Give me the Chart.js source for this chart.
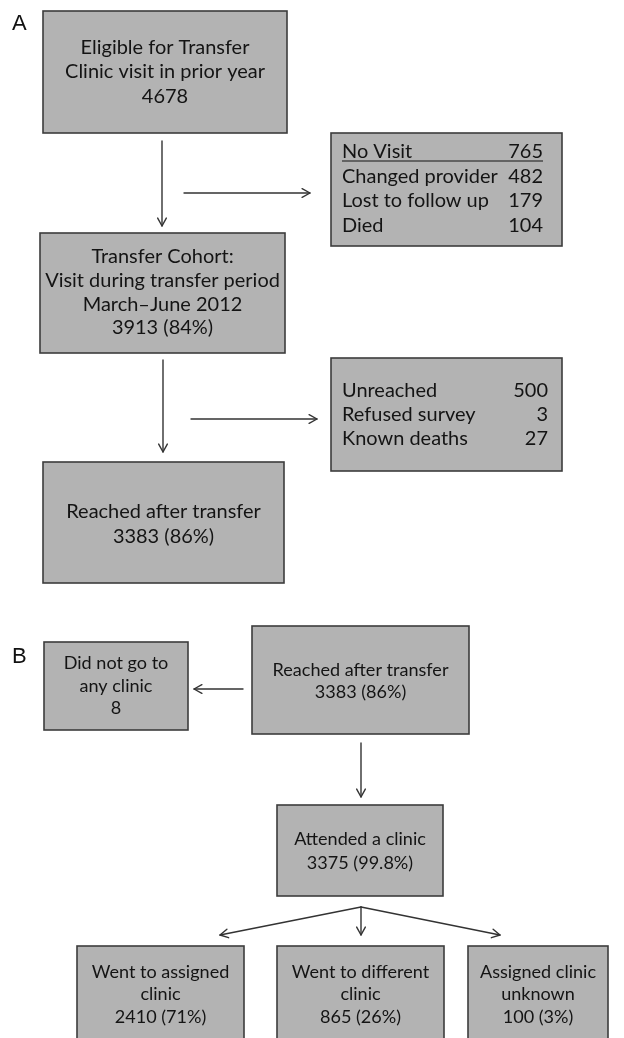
<!DOCTYPE html>
<html>
<head>
<meta charset="utf-8">
<script src="https://cdn.jsdelivr.net/npm/chart.js@4/dist/chart.umd.min.js"></script>
<style>
html,body{margin:0;padding:0;background:#fff;}
#wrap{width:624px;height:1038px;}
</style>
</head>
<body>
<div id="wrap"><canvas id="c" width="624" height="1038"></canvas></div>
<script>
// ---- data (text and counts) ----
const panelLabels = ['A', 'B'];
const eligibleCount = 4678;
const noVisitItems = ['No Visit', 'Changed provider', 'Lost to follow up', 'Died'];
const noVisitValues = [765, 482, 179, 104];
const cohortCount = 3913, cohortPct = '84%';
const lossItems = ['Unreached', 'Refused survey', 'Known deaths'];
const lossValues = [500, 3, 27];
const reachedCount = 3383, reachedPct = '86%';
const noClinicCount = 8;
const attendedCount = 3375, attendedPct = '99.8%';
const outcomeNames = [['Went to assigned', 'clinic'], ['Went to different', 'clinic'], ['Assigned clinic', 'unknown']];
const outcomeCounts = [2410, 865, 100];
const outcomePcts = ['71%', '26%', '3%'];

// ---- layout (data units of the chart's own linear scales) ----
const boxes = [
  {x0:43, y0:11, x1:287, y1:133, cy:72, lh:24.5, sec:'A', lines:['Eligible for Transfer','Clinic visit in prior year', String(eligibleCount)]},
  {x0:40, y0:233, x1:285, y1:353, cy:292.5, lh:23.7, sec:'A', lines:['Transfer Cohort:','Visit during transfer period','March\u2013June 2012', cohortCount+' ('+cohortPct+')']},
  {x0:43, y0:462, x1:284, y1:583, cy:524.5, lh:25, sec:'A', lines:['Reached after transfer', reachedCount+' ('+reachedPct+')']},
  {x0:331, y0:133, x1:562, y1:246, sec:'A', list:{items:noVisitItems, vals:noVisitValues, lx:342, rx:543, ys:[152,177,201,226], underline:161}},
  {x0:331, y0:358, x1:562, y1:471, sec:'A', list:{items:lossItems, vals:lossValues, lx:342, rx:548, ys:[391,415,439]}},
  {x0:44, y0:642, x1:188, y1:730, cy:686, lh:22.5, sec:'B', lines:['Did not go to','any clinic', String(noClinicCount)]},
  {x0:252, y0:626, x1:469, y1:734, cy:681, lh:22.5, sec:'B', lines:['Reached after transfer', reachedCount+' ('+reachedPct+')']},
  {x0:277, y0:805, x1:443, y1:896, cy:851, lh:24, sec:'B', lines:['Attended a clinic', attendedCount+' ('+attendedPct+')']},
  {x0:77, y0:946, x1:244, y1:1045, cy:994.5, lh:22.5, sec:'B', lines:[outcomeNames[0][0], outcomeNames[0][1], outcomeCounts[0]+' ('+outcomePcts[0]+')']},
  {x0:277, y0:946, x1:444, y1:1045, cy:994.5, lh:22.5, sec:'B', lines:[outcomeNames[1][0], outcomeNames[1][1], outcomeCounts[1]+' ('+outcomePcts[1]+')']},
  {x0:468, y0:946, x1:608, y1:1045, cy:994.5, lh:22.5, sec:'B', lines:[outcomeNames[2][0], outcomeNames[2][1], outcomeCounts[2]+' ('+outcomePcts[2]+')']}
];
const arrows = [
  [162,141,162,226],[184,193,310,193],
  [163,360,163,452],[191,419,317,419],
  [243,689,194,689],[361,743,361,797]
];
const branchApex = [361,907];
const branchEnds = [[220,935],[361,935],[500,935]];
const labelPos = [[12,30,22],[12,663,22]];

const FONT = 'Lato, "Open Sans", sans-serif';
const BOX_FILL = '#b3b3b3', BOX_EDGE = '#3c3c3c', TEXT = '#141414', LINE = '#333';

function fitSize(ctx, str, target){
  ctx.font = '20px ' + FONT;
  return 20 * target / ctx.measureText(str).width;
}

const flowPlugin = {
  id: 'flow',
  afterDraw(chart){
    const ctx = chart.ctx, sx = chart.scales.x, sy = chart.scales.y;
    const X = v => sx.getPixelForValue(v), Y = v => sy.getPixelForValue(v);
    const sizes = {A: fitSize(ctx, 'Clinic visit in prior year', 200), B: fitSize(ctx, 'Reached after transfer', 176)};
    ctx.save();
    // boxes
    boxes.forEach(b => {
      const x = X(b.x0), y = Y(b.y0), w = X(b.x1) - x, h = Y(b.y1) - y;
      ctx.fillStyle = BOX_FILL; ctx.fillRect(x, y, w, h);
      ctx.strokeStyle = BOX_EDGE; ctx.lineWidth = 1.6; ctx.strokeRect(x, y, w, h);
      ctx.fillStyle = TEXT; ctx.textBaseline = 'middle';
      ctx.font = sizes[b.sec].toFixed(2) + 'px ' + FONT;
      if (b.lines){
        ctx.textAlign = 'center';
        const cx = (X(b.x0) + X(b.x1)) / 2;
        const n = b.lines.length;
        b.lines.forEach((t, i) => ctx.fillText(t, cx, Y(b.cy + (i - (n - 1) / 2) * b.lh)));
      } else {
        const L = b.list;
        L.items.forEach((t, i) => {
          ctx.textAlign = 'left'; ctx.fillText(t, X(L.lx), Y(L.ys[i]));
          ctx.textAlign = 'right'; ctx.fillText(String(L.vals[i]), X(L.rx), Y(L.ys[i]));
        });
        if (L.underline){
          ctx.strokeStyle = TEXT; ctx.lineWidth = 1.2;
          ctx.beginPath(); ctx.moveTo(X(L.lx), Y(L.underline)); ctx.lineTo(X(L.rx), Y(L.underline)); ctx.stroke();
        }
      }
    });
    // arrows
    ctx.strokeStyle = LINE; ctx.lineWidth = 1.4; ctx.lineCap = 'round'; ctx.lineJoin = 'round';
    function head(x1, y1, x2, y2){
      const a = Math.atan2(y2 - y1, x2 - x1), L = 9, s = 0.5;
      ctx.beginPath();
      ctx.moveTo(x2 - L * Math.cos(a - s), y2 - L * Math.sin(a - s));
      ctx.lineTo(x2, y2);
      ctx.lineTo(x2 - L * Math.cos(a + s), y2 - L * Math.sin(a + s));
      ctx.stroke();
    }
    arrows.forEach(a => {
      const x1 = X(a[0]), y1 = Y(a[1]), x2 = X(a[2]), y2 = Y(a[3]);
      ctx.beginPath(); ctx.moveTo(x1, y1); ctx.lineTo(x2, y2); ctx.stroke();
      head(x1, y1, x2, y2);
    });
    branchEnds.forEach(e => {
      const x1 = X(branchApex[0]), y1 = Y(branchApex[1]), x2 = X(e[0]), y2 = Y(e[1]);
      ctx.beginPath(); ctx.moveTo(x1, y1); ctx.lineTo(x2, y2); ctx.stroke();
      head(x1, y1, x2, y2);
    });
    // panel labels
    ctx.fillStyle = '#111'; ctx.textAlign = 'left'; ctx.textBaseline = 'alphabetic';
    panelLabels.forEach((t, i) => {
      ctx.font = labelPos[i][2] + 'px "Liberation Sans", Arial, sans-serif';
      ctx.fillText(t, X(labelPos[i][0]), Y(labelPos[i][1]));
    });
    ctx.restore();
  }
};

new Chart(document.getElementById('c'), {
  type: 'scatter',
  data: { datasets: [{ data: [], pointRadius: 0 }] },
  options: {
    responsive: false,
    animation: false,
    layout: { padding: 0 },
    plugins: { legend: { display: false }, tooltip: { enabled: false } },
    scales: {
      x: { type: 'linear', min: 0, max: 624, display: false },
      y: { type: 'linear', min: 0, max: 1038, reverse: true, display: false }
    }
  },
  plugins: [flowPlugin]
});
</script>
</body>
</html>
